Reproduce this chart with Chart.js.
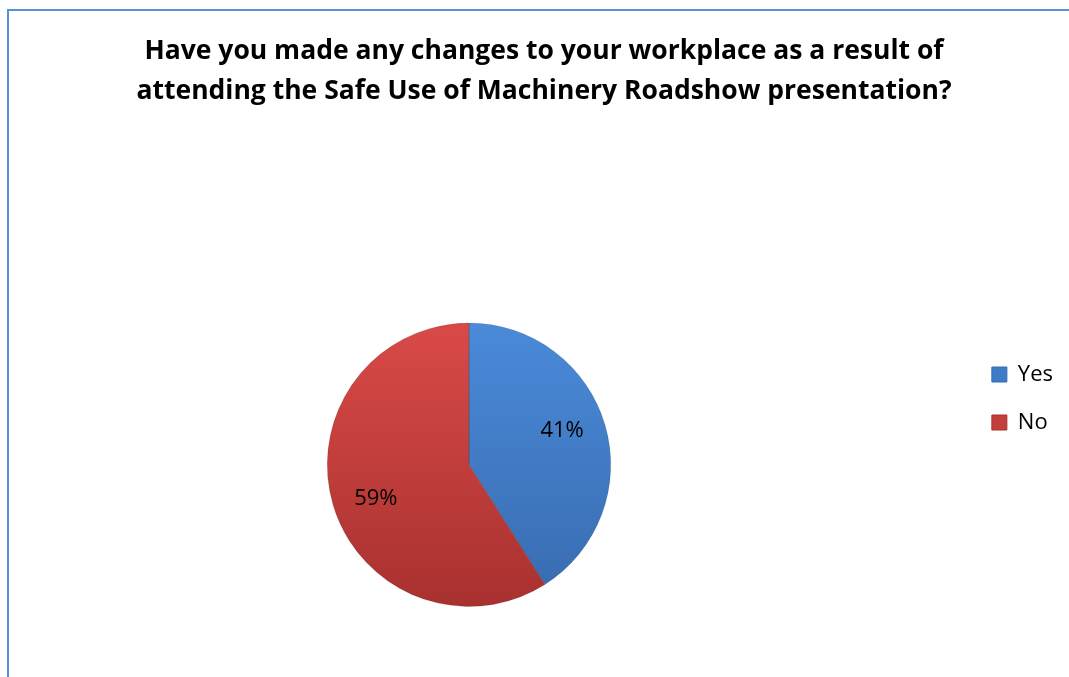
<!DOCTYPE html>
<html lang="en">
<head>
<meta charset="UTF-8">
<title>Safe Use of Machinery Roadshow</title>
<script src="https://cdn.jsdelivr.net/npm/chart.js"></script>
<style>
  html, body { margin: 0; background: #fff; overflow: hidden; }
  body { width: 1069px; height: 677px; position: relative; }
  /* chart frame: only the top and left edges show inside the window */
  .frame { position: absolute; left: 7px; top: 9px; width: 1100px; height: 700px;
           border-left: 2px solid #5b8fd6; border-top: 2px solid #5b8fd6; }
  #chart { position: absolute; left: 9px; top: 0; }
</style>
</head>
<body>
<div class="frame"></div>
<canvas id="chart" width="1070" height="677"></canvas>

<script>
const titleLines = [
    'Have you made any changes to your workplace as a result of',
    'attending the Safe Use of Machinery Roadshow presentation?'
];
const categories = ['Yes', 'No'];
const shares = [41, 59];

// light (top) / dark (bottom) shade of each slice, plus legend swatch
const topShades = ['#4a8ad9', '#d94a47'];
const bottomShades = ['#386bb0', '#a8312f'];
const swatches = ['#3e7bc8', '#c23f3c'];

function sliceFill(context) {
    const { chart, dataIndex } = context;
    const area = chart.chartArea;
    if (!area) return swatches[dataIndex];
    const g = chart.ctx.createLinearGradient(0, area.top, 0, area.bottom);
    g.addColorStop(0, topShades[dataIndex]);
    g.addColorStop(1, bottomShades[dataIndex]);
    return g;
}

// Excel sits the pie left of the title centre and the legend near the top
const plotPlacement = {
    id: 'plotPlacement',
    afterLayout(chart) {
        const area = chart.chartArea;
        area.width = 920;
        area.right = area.left + area.width;
        const lg = chart.legend;
        lg.left -= 16; lg.right -= 16;
        lg.top += 15; lg.bottom += 15;
    }
};

// percentage labels inside the slices
const sliceLabels = {
    id: 'sliceLabels',
    afterDatasetsDraw(chart) {
        const ctx = chart.ctx;
        const arcs = chart.getDatasetMeta(0).data;
        ctx.save();
        ctx.font = '22px "Open Sans"';
        ctx.fillStyle = '#000';
        ctx.textAlign = 'center';
        ctx.textBaseline = 'middle';
        arcs.forEach((arc, i) => {
            const p = arc.getProps(['x', 'y', 'startAngle', 'endAngle', 'outerRadius'], true);
            const mid = (p.startAngle + p.endAngle) / 2 - 0.07;
            const r = p.outerRadius * 0.7;
            ctx.fillText(shares[i] + '%', p.x + Math.cos(mid) * r, p.y + Math.sin(mid) * r);
        });
        ctx.restore();
    }
};

new Chart(document.getElementById('chart'), {
    type: 'pie',
    data: {
        labels: categories,
        datasets: [{
            data: shares,
            backgroundColor: sliceFill,
            borderColor: 'rgba(0,0,0,0.12)',
            borderWidth: 1,
            hoverOffset: 0
        }]
    },
    options: {
        responsive: false,
        animation: false,
        events: [],
        layout: { padding: { top: 0, bottom: 70, left: 0, right: 0 } },
        plugins: {
            title: {
                display: true,
                text: titleLines,
                color: '#000',
                font: { family: '"Open Sans"', size: 26.5, weight: 'bold', lineHeight: 1.5 },
                padding: { top: 32, bottom: 211 }
            },
            legend: {
                position: 'right',
                align: 'start',
                fullSize: false,
                labels: {
                    color: '#000',
                    font: { family: '"Open Sans"', size: 22 },
                    boxWidth: 15,
                    boxHeight: 15,
                    padding: 26,
                    generateLabels: () => categories.map((c, i) => ({
                        text: c,
                        fillStyle: swatches[i],
                        strokeStyle: bottomShades[i],
                        lineWidth: 1,
                        hidden: false,
                        index: i
                    }))
                }
            },
            tooltip: { enabled: false }
        }
    },
    plugins: [plotPlacement, sliceLabels]
});
</script>
</body>
</html>
